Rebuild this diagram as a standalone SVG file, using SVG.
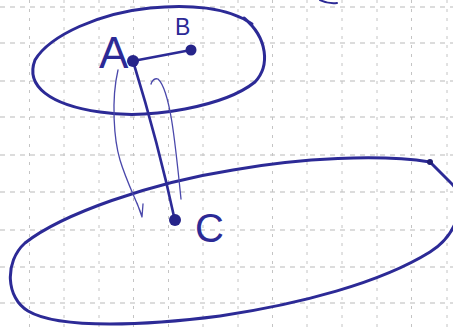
<svg xmlns="http://www.w3.org/2000/svg" width="453" height="327" viewBox="0 0 453 327">
<defs>
<style>
.grid line{stroke:#b9b9b9;stroke-width:1;stroke-dasharray:5 5}
.gv line{stroke:#c4c4c4;stroke-width:1;stroke-dasharray:3 6}
.ink{fill:none;stroke:#2c2a96;stroke-linecap:round;stroke-linejoin:round}
.thick{stroke-width:3}
.edge{stroke-width:2.6}
.thin{stroke:#4a48ab;stroke-width:1.3}
.dot{fill:#26248a}
.lbl{font-family:"Liberation Sans",Arial,sans-serif;fill:#2c2a96}
</style>
</defs>
<rect width="453" height="327" fill="#ffffff"/>
<g id="grid">
<g class="grid">
<line x1="0" y1="7" x2="453" y2="7"/>
<line x1="0" y1="43" x2="453" y2="43"/>
<line x1="0" y1="81" x2="453" y2="81"/>
<line x1="0" y1="117" x2="453" y2="117"/>
<line x1="0" y1="155" x2="453" y2="155"/>
<line x1="0" y1="192" x2="453" y2="192"/>
<line x1="0" y1="230" x2="453" y2="230"/>
<line x1="0" y1="267" x2="453" y2="267"/>
<line x1="0" y1="303" x2="453" y2="303"/>
</g>
<g class="gv">
<line x1="29.5" y1="0" x2="29.5" y2="327"/>
<line x1="64" y1="0" x2="64" y2="327"/>
<line x1="99" y1="0" x2="99" y2="327"/>
<line x1="133.5" y1="0" x2="133.5" y2="327"/>
<line x1="168.5" y1="0" x2="168.5" y2="327"/>
<line x1="203" y1="0" x2="203" y2="327"/>
<line x1="238" y1="0" x2="238" y2="327"/>
<line x1="272.5" y1="0" x2="272.5" y2="327"/>
<line x1="307" y1="0" x2="307" y2="327"/>
<line x1="342" y1="0" x2="342" y2="327"/>
<line x1="377" y1="0" x2="377" y2="327"/>
<line x1="411.5" y1="0" x2="411.5" y2="327"/>
<line x1="447" y1="0" x2="447" y2="327"/>
</g>
</g>
<g id="regions">
<path id="set-top" class="ink thick" d="M 252,24 C 228,7 188,4 150,8 C 100,13 50,35 35,60 C 25,86 50,105 100,112 C 150,120 225,106 255,82 C 270,66 268,38 244,18"/>
<path id="set-bottom" class="ink thick" d="M 430,162 C 380,154 300,158 233,170 C 150,183 62,214 25,243 C 4,262 6,298 28,311 C 60,330 150,325 220,316 C 300,304 380,283 430,252 C 455,236 462,212 458,195 C 456,188 454,186 452,184 L 430,162"/>
<path id="mark-top" class="ink" stroke-width="2" d="M 320,0 Q 328,4 337,3"/>
</g>
<g id="connectors">
<path id="edge-A-B" class="ink edge" d="M 133,61 L 191,50"/>
<path id="edge-A-C" class="ink edge" d="M 133,61 C 145,100 162,160 175,221"/>
<path id="arrow-down" class="ink thin" d="M 118,70 C 111,100 114,140 120,160 C 126,180 136,200 142,216 M 137,203 L 142,217 L 143,204"/>
<path id="arrow-up" class="ink thin" d="M 151,84 C 152,80 155,78 158,79 C 170,90 175,140 181,199"/>
</g>
<g id="node-A">
<circle class="dot" cx="133" cy="61" r="6"/>
<text class="lbl" x="99" y="68" font-size="44">A</text>
</g>
<g id="node-B">
<circle class="dot" cx="191" cy="50" r="5.5"/>
<text class="lbl" x="175" y="35" font-size="23">B</text>
</g>
<g id="node-C">
<circle class="dot" cx="175" cy="220" r="6"/>
<text class="lbl" x="195" y="242" font-size="40">C</text>
</g>
<circle cx="430" cy="162" r="3" fill="#1f1d70"/>
</svg>
